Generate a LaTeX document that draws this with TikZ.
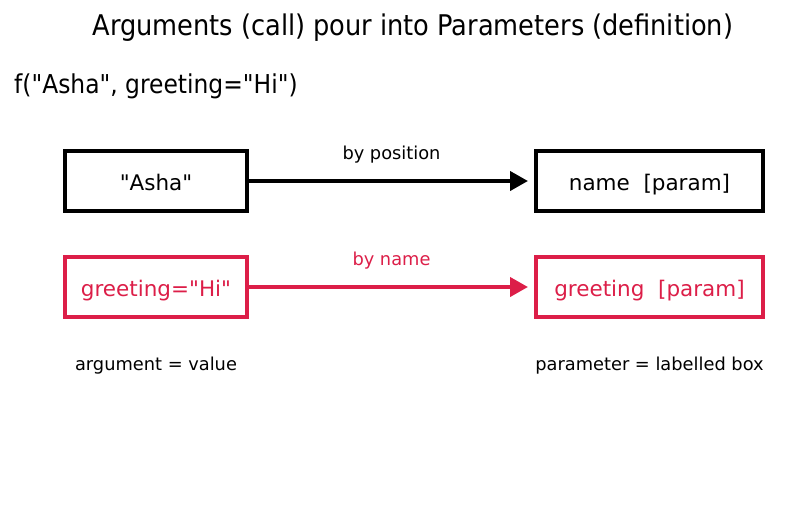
\documentclass[tikz,border=0pt]{standalone}
\usepackage{fontspec}
\setmainfont{DejaVu Sans}
\newfontfamily\condfont{DejaVu Sans Condensed}
\usepackage{tikz}
\usetikzlibrary{arrows.meta,positioning}
\definecolor{namered}{RGB}{220,30,72}
\newcommand{\dq}{\textquotedbl}

\begin{document}
\begin{tikzpicture}
[x=1pt,y=-1pt,>={Triangle[length=18pt,width=19pt]},
 argbox/.style={draw,line width=4pt,minimum height=60pt,inner sep=0pt,text height=23pt,text depth=5pt,font=\fontsize{21.5}{25}\selectfont},
 link/.style={->,line width=4pt,shorten >=6pt},
 tag/.style={font=\fontsize{17.8}{21}\selectfont}]
  \useasboundingbox (0,0) rectangle (807,512);
  \node[font=\condfont\fontsize{28.5}{32}\selectfont] (title) at (413,28) {Arguments (call) pour into Parameters (definition)};
  \node[font=\condfont\fontsize{26}{30}\selectfont,anchor=west,inner sep=0pt] (call) at (14,86) {f(\dq Asha\dq, greeting=\dq Hi\dq)};
%
  \node[argbox,minimum width=182pt] (1) at (156,181) {\dq Asha\dq};
  \node[argbox,minimum width=182pt,draw=namered,text=namered] (1a) at (156,287) {greeting=\dq Hi\dq};
  \node[tag] (1b) at (156,366) {argument = value};
%
  \node[argbox,minimum width=227pt] (2) at (649.5,181) {name\ \ [param]};
  \node[argbox,minimum width=227pt,draw=namered,text=namered] (2a) at (649.5,287) {greeting\ \ [param]};
  \node[tag] (2b) at (649.5,366) {parameter = labelled box};
%
  \draw[link] (1) -- node[tag,above=12pt] {by position} (2);
  \draw[link,namered] (1a) -- node[tag,above=12pt] {by name} (2a);
\end{tikzpicture}
\end{document}
